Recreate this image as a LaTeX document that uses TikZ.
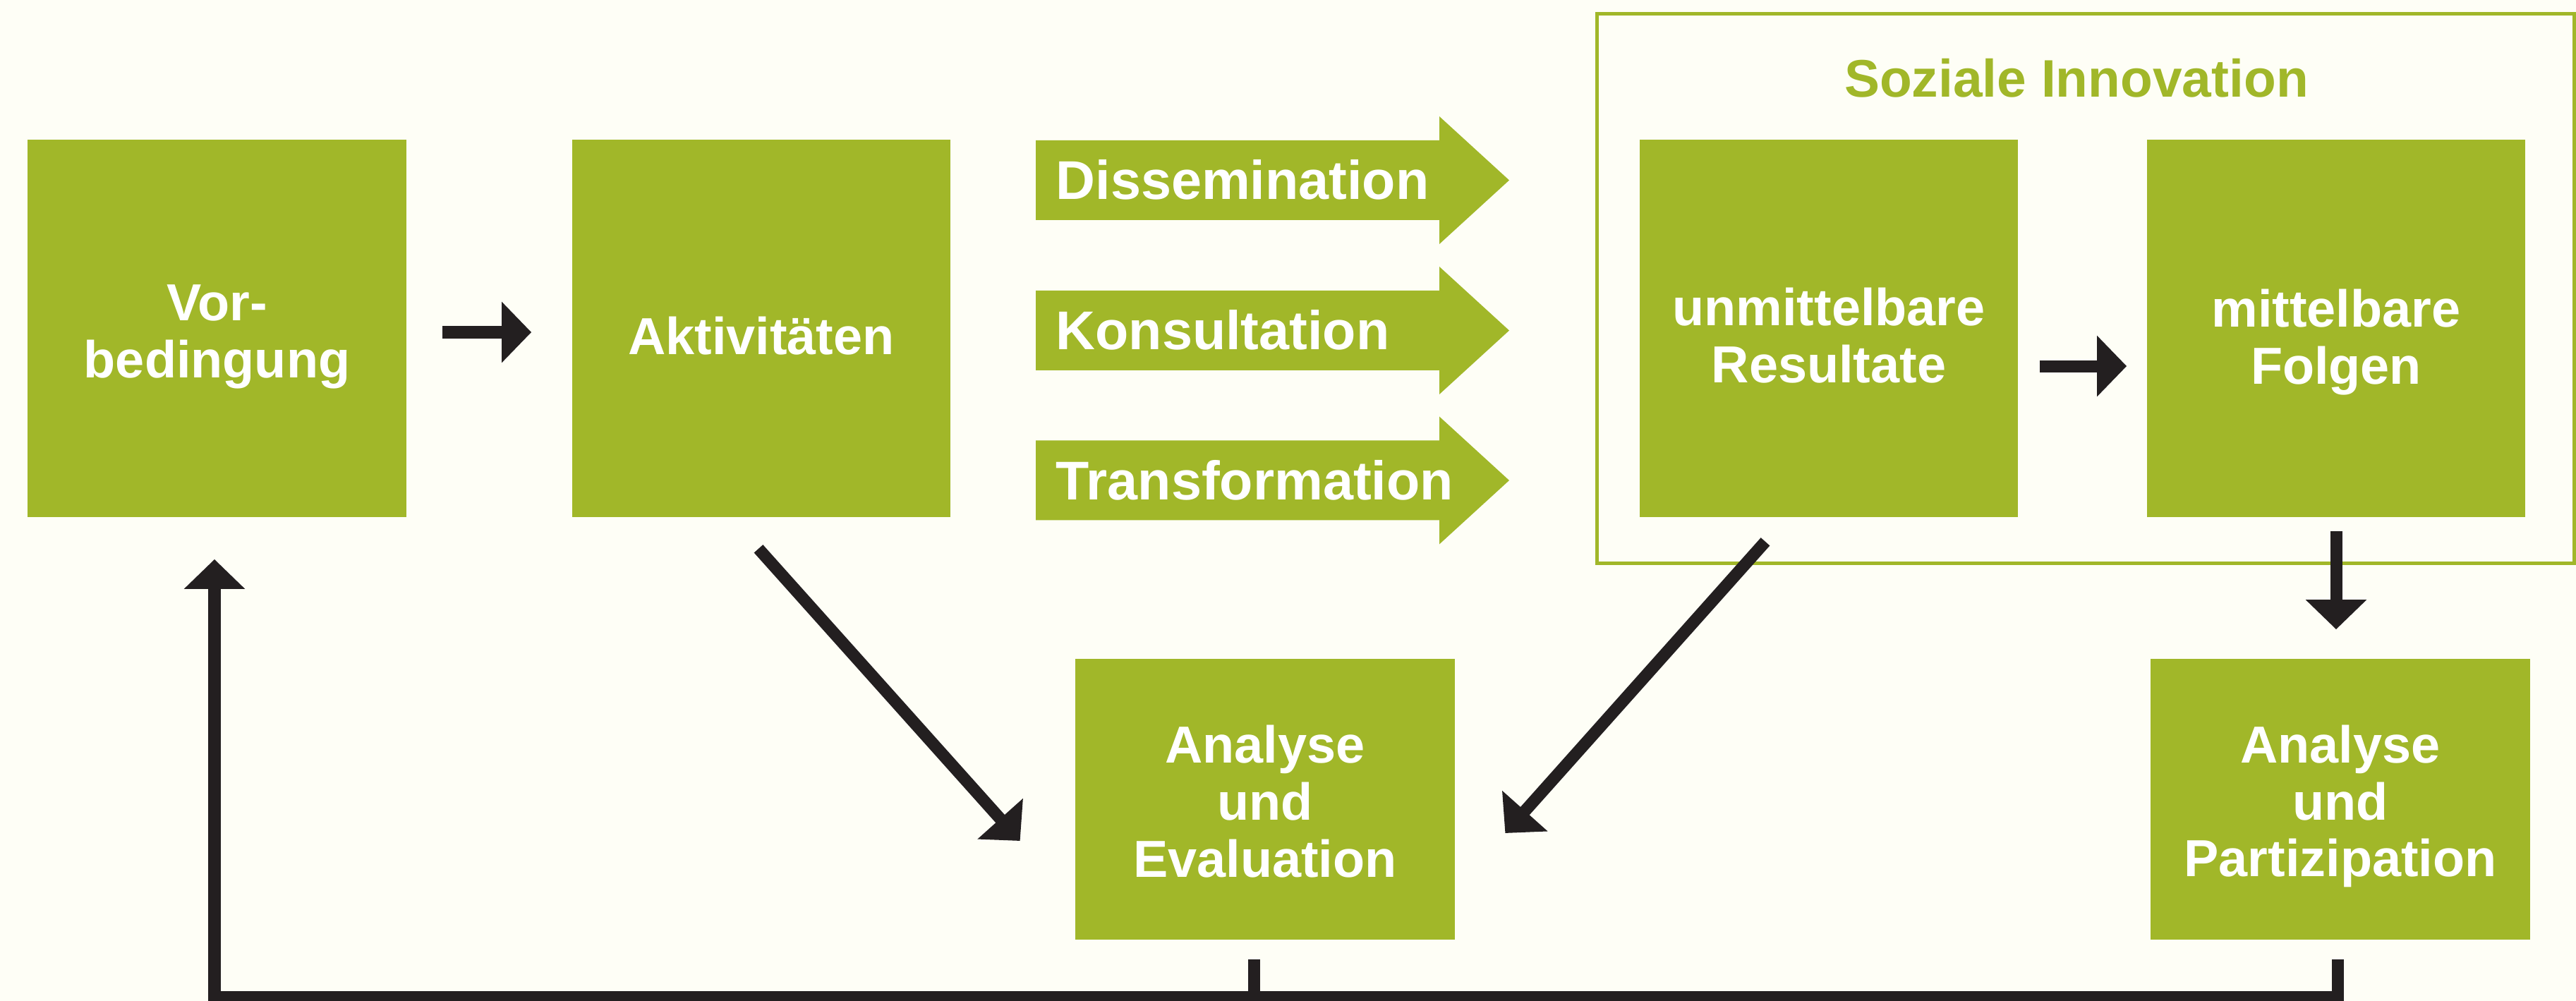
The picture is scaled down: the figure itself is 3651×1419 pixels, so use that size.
\documentclass[tikz,border=0pt]{standalone}
\usepackage{fontspec}
\setmainfont{Liberation Sans}
\usetikzlibrary{arrows.meta}
\definecolor{grn}{RGB}{161,183,41}
\definecolor{bgc}{RGB}{254,254,246}
\definecolor{blk}{RGB}{35,31,32}
\begin{document}
\begin{tikzpicture}[x=0.01cm,y=-0.01cm,
  boxshape/.style={fill=grn, draw=none, inner sep=0pt},
  bigbox/.style={boxshape, minimum width=5.36cm, minimum height=5.35cm},
  lowbox/.style={boxshape, minimum width=5.37cm, minimum height=3.98cm},
  boxtext/.style={text=white, align=center, inner sep=0pt,
    font=\fontsize{21pt}{23pt}\selectfont\bfseries},
  conn/.style={draw=blk, line width=0.17cm, -{Triangle[length=0.42cm,width=0.84cm]}},
  plainline/.style={draw=blk, line width=0.17cm},
  blabel/.style={text=white, inner sep=0pt, anchor=base west,
    font=\fontsize{22pt}{24pt}\selectfont\bfseries}]
\useasboundingbox (0,0) rectangle (3651,1419);
\fill[bgc] (0,0) rectangle (3651,1419);

% frame "Soziale Innovation"
\node[draw=grn, line width=0.05cm, minimum width=13.845cm, minimum height=7.785cm, inner sep=0pt] (frame) at (2955.75,409.25) {};
\node[anchor=base, text=grn, inner sep=0pt, font=\fontsize{21.3pt}{24pt}\selectfont\bfseries] (title) at (2943,138) {Soziale Innovation};

% boxes
\node[bigbox] (vor) at (307.5,465.5) {};
\node[bigbox] (akt) at (1079,465.5) {};
\node[bigbox] (unm) at (2592,465.5) {};
\node[bigbox] (mit) at (3311,465.5) {};
\node[lowbox] (ae) at (1793,1133) {};
\node[lowbox] (ap) at (3317,1133) {};

\node[boxtext] (vorT) at ([yshift=-0.12cm]vor.center) {Vor-\\bedingung};
\node[boxtext] (aktT) at ([yshift=-0.11cm]akt.center) {Aktivitäten};
\node[boxtext] (unmT) at ([yshift=-0.10cm]unm.center) {unmittelbare\\Resultate};
\node[boxtext] (mitT) at ([yshift=-0.20cm]mit.center) {mittelbare\\Folgen};
\node[boxtext] (aeT) at ([yshift=-0.03cm]ae.center) {Analyse\\und\\Evaluation};
\node[boxtext] (apT) at ([yshift=-0.10cm]ap.center) {Analyse\\und\\Partizipation};

% block arrows
\foreach \yc/\nm/\txt in {255.5/dis/Dissemination, 468.5/kon/Konsultation, 681/tra/Transformation}{
  \fill[grn] (1468,{\yc-56.5}) -- (2040,{\yc-56.5}) -- (2040,{\yc-90.5}) -- (2139,\yc)
    -- (2040,{\yc+90.5}) -- (2040,{\yc+56.5}) -- (1468,{\yc+56.5}) -- cycle;
  \node[blabel] (\nm) at (1496,{\yc+27.5}) {\txt};
}

% connectors
\draw[conn, shorten <=0.51cm, shorten >=0.57cm] ([yshift=-0.055cm]vor.east) -- ([yshift=-0.055cm]akt.west);
\draw[conn, shorten <=0.30cm, shorten >=0.28cm] ([yshift=-0.535cm]unm.east) -- ([yshift=-0.535cm]mit.west);
\draw[conn, shorten <=0.19cm, shorten >=0.41cm] (mit.south) -- (mit.south |- ap.north);
\draw[conn] ([shift={(-4,44)}]akt.south) -- ([shift={(-78,59)}]ae.west);
\draw[conn] ([shift={(-90,34)}]unm.south) -- ([shift={(71,48)}]ae.east);

% feedback loop
\coordinate (fb) at (0,1413);
\coordinate (s1) at ([shift={(-16,27)}]ae.south);
\coordinate (s2) at ([shift={(-4,27)}]ap.south);
\coordinate (v) at ([shift={(-3.5,0)}]vor.south);
\draw[plainline] (s1) -- (s1 |- fb);
\draw[conn, shorten >=0.59cm] (s2) |- (v |- fb) -- (v);
\end{tikzpicture}
\end{document}
